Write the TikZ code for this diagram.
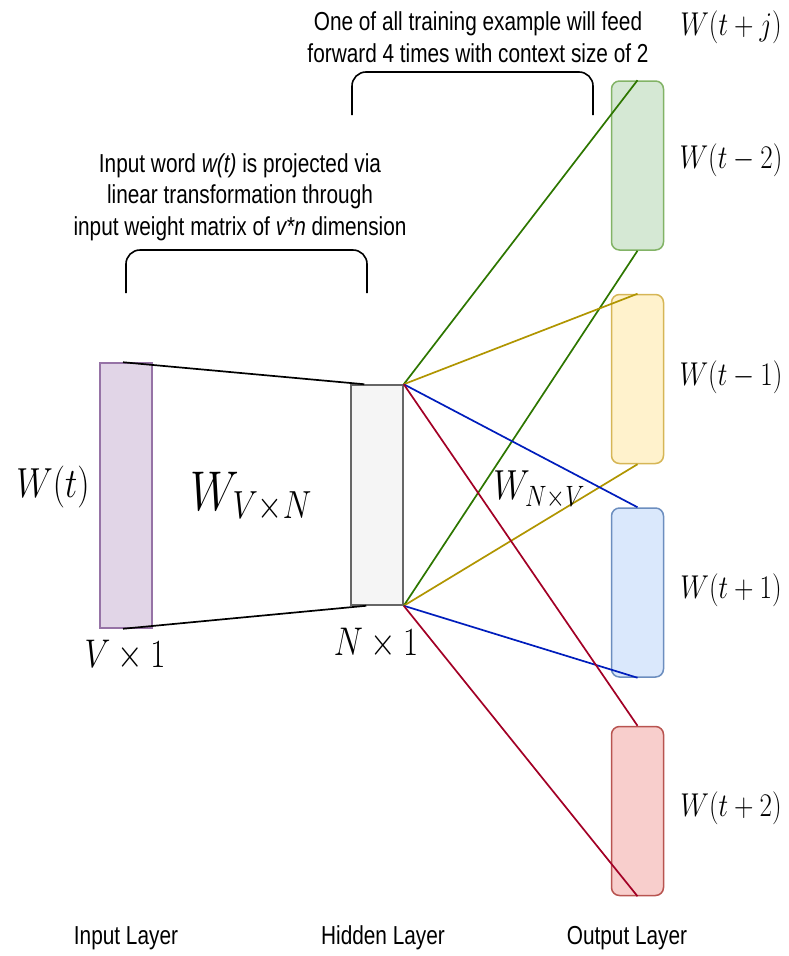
\RequirePackage{fix-cm}
\documentclass[tikz,border=0pt]{standalone}
\usepackage{fontspec}
\setmainfont{Liberation Sans}
\usetikzlibrary{positioning}

\definecolor{inFill}{HTML}{E1D5E7}  \definecolor{inDraw}{HTML}{9673A6}
\definecolor{hidFill}{HTML}{F5F5F5} \definecolor{hidDraw}{HTML}{666666}
\definecolor{gFill}{HTML}{D5E8D4}   \definecolor{gDraw}{HTML}{82B366}
\definecolor{yFill}{HTML}{FFF2CC}   \definecolor{yDraw}{HTML}{D6B656}
\definecolor{bFill}{HTML}{DAE8FC}   \definecolor{bDraw}{HTML}{6C8EBF}
\definecolor{rFill}{HTML}{F8CECC}   \definecolor{rDraw}{HTML}{B85450}
\definecolor{gLine}{HTML}{2D7600}   \definecolor{yLine}{HTML}{B09500}
\definecolor{bLine}{HTML}{001DBC}   \definecolor{rLine}{HTML}{A20025}

\begin{document}
\begin{tikzpicture}[
    x=1pt, y=-1pt,
    lyr/.style    = {draw, line width=1.5pt, minimum width=52pt, inner sep=0pt},
    outbox/.style = {lyr, rounded corners=8pt, minimum height=169pt},
    wgt/.style    = {line width=1.7pt},
    txt/.style    = {xscale=0.8, align=center, inner sep=0pt,
                     font=\fontsize{26}{31.5}\selectfont},
    mlab/.style   = {xscale=0.82, inner sep=0pt, font=\fontsize{33}{40}\selectfont},
    bigm/.style   = {xscale=0.82, inner sep=0pt, font=\fontsize{42}{50}\selectfont},
    brk/.style    = {line width=1.6pt, rounded corners=14pt}
  ]
  \useasboundingbox (0,0) rectangle (789,956);

  % --- layers ---
  \node[lyr, fill=inFill, draw=inDraw, minimum height=265pt] (inp) at (126,495.5) {};
  \node[lyr, fill=hidFill, draw=hidDraw, minimum height=220pt] (hid) at (377,495) {};

  \node[outbox, fill=gFill, draw=gDraw] (outG) at (637.5,165.5) {};
  \node[outbox, fill=yFill, draw=yDraw] (outY) at (637.5,379) {};
  \node[outbox, fill=bFill, draw=bDraw] (outB) at (637.5,592.5) {};
  \node[outbox, fill=rFill, draw=rDraw] (outR) at (637.5,811) {};

  % --- input -> hidden ---
  \draw[wgt] ([xshift=-3pt]inp.north) -- ([xshift=14pt]hid.north west);
  \draw[wgt] ([xshift=-3pt]inp.south) -- ([xshift=16pt]hid.south west);

  % --- hidden -> output ---
  \draw[wgt, gLine] (hid.north east) -- (outG.north);
  \draw[wgt, gLine] (hid.south east) -- (outG.south);
  \draw[wgt, yLine] (hid.north east) -- (outY.north);
  \draw[wgt, yLine] (hid.south east) -- (outY.south);
  \draw[wgt, bLine] (hid.north east) -- (outB.north);
  \draw[wgt, bLine] (hid.south east) -- (outB.south);
  \draw[wgt, rLine] (hid.north east) -- (outR.north);
  \draw[wgt, rLine] (hid.south east) -- (outR.south);

  % --- brackets ---
  \draw[brk] (126,293) -- (126,250) -- (367,250) -- (367,293);
  \draw[brk] (352,115) -- (352,72) -- (593,72) -- (593,115);

  % --- notes ---
  \node[txt] (noteTop) at (478,37)
       {One of all training example will feed\\forward 4 times with context size of 2};
  \node[txt] (noteIn) at (240,197)
       {Input word \textit{w(t)} is projected via\\linear transformation through\\
        input weight matrix of \textit{v*n} dimension};

  % --- math labels ---
  \node[mlab] (lj)  at (731,27)  {$W(t+j)$};
  \node[mlab] (lm2) at (731,160) {$W(t-2)$};
  \node[mlab] (lm1) at (731,377) {$W(t-1)$};
  \node[mlab] (lp1) at (731,590) {$W(t+1)$};
  \node[mlab] (lp2) at (731,808) {$W(t+2)$};

  \node[bigm] (lw)  at (53,487)  {$W(t)$};
  \node[mlab, font=\fontsize{40}{48}\selectfont] (lv1) at (125,655) {$V\times 1$};
  \node[mlab, font=\fontsize{40}{48}\selectfont] (ln1) at (376,643) {$N\times 1$};
  \node[mlab, font=\fontsize{56}{64}\selectfont] (wvn) at (251,497) {$W_{V\times N}$};
  \node[mlab, font=\fontsize{42}{50}\selectfont] (wnv) at (539,490) {$W_{N\times V}$};

  % --- layer captions ---
  \node[txt] (capIn)  at (126,938) {Input Layer};
  \node[txt] (capHid) at (383,938) {Hidden Layer};
  \node[txt] (capOut) at (627,938) {Output Layer};

\end{tikzpicture}
\end{document}
